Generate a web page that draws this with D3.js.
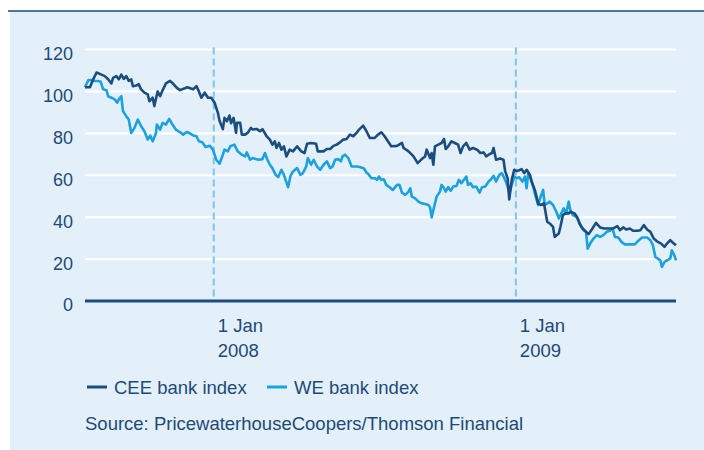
<!DOCTYPE html>
<html><head><meta charset="utf-8">
<script src="https://cdn.jsdelivr.net/npm/d3@7"></script>
<style>
html,body{margin:0;padding:0;background:#fff;}
svg{display:block;}
text{font-family:"Liberation Sans",Arial,Helvetica,sans-serif;fill:#1d4a78;}
</style></head>
<body>
<svg id="chart" width="704" height="450"></svg>
<script>
// Day offsets relative to 1 Jan 2008, and index values
const ceeDays = [-156,-150,-146,-142,-136,-132,-128,-124,-122,-118,-115,-112,-109,-106,-103,-100,-98,-94,-91,-88,-84,-80,-78,-74,-72,-68,-65,-62,-58,-53,-50,-45,-41,-35,-32,-25,-21,-18,-15,-11,-7,-3,1,5,7,11,13,16,19,21,24,27,28,32,34,38,41,45,47,52,56,59,64,68,71,74,76,79,82,85,88,92,96,101,106,110,113,118,124,126,133,137,141,145,149,153,157,161,165,169,173,176,181,185,189,195,199,203,207,211,215,222,228,230,236,242,247,252,256,258,262,264,266,268,272,276,279,281,284,288,292,296,299,302,306,310,314,319,323,327,330,333,337,339,342,347,351,353,356,358,361,364,367,370,373,376,379,383,385,389,393,396,400,404,407,411,413,418,420,423,426,430,432,437,440,443,447,451,454,458,463,468,473,478,484,489,492,496,500,504,508,513,517,521,525,529,533,538,542,546,549,553,557,560];
const ceeValues = [102,102,105.8,109,108,107.3,105.8,103.8,106.5,107.3,105.8,108,106,107.3,105,105.8,102.5,102.8,103.5,101,99.4,98.6,95.3,97,93,100,97.7,100.5,103.8,105,104,101.8,100.6,101.5,102,101,102.5,100,97,99.4,97,97,94.6,89.8,86,82,87.4,85.8,88.5,84.8,87.4,80.2,85,85,79.4,79.4,80.2,82.6,81.8,82.1,81,82,78.6,77,74.6,76.2,73,75.4,72.2,73.8,69,72.2,71.4,73.8,71.4,70.6,75,75.4,75,71.4,71.4,72.5,72.5,74,74.6,75.7,77,77.3,79.4,78.6,80.2,81.8,83.7,81,77.8,77.8,79.4,80.5,78.6,76.2,73.8,74,75.4,73,71.4,69,65.8,67.7,69,72.2,68.2,70.6,65,73.8,74.6,75.4,77.3,72.5,73.8,76.2,75.4,74.6,70.6,73.8,75.4,72.2,73,72.2,70.6,70.9,69,69.8,70.6,73,67.4,68,67.4,62,58.5,48.5,57.8,62.6,62,62.4,62.9,61,62.6,60.2,57,53,46.6,45.8,46.6,37.8,37,35.4,30.6,32.2,35.4,41,41.8,41.8,42.6,41.8,40.2,37,34.6,33,31.9,34.1,37.3,35.1,34.6,34.6,34.6,35.7,33.8,35.1,34.1,34.6,33.5,33.5,33.8,36.2,34.1,33,29.8,28.2,27.4,25.8,27.4,29,27.6,26.6];

const weDays = [-156,-152,-148,-144,-140,-137,-134,-130,-128,-124,-120,-117,-115,-112,-110,-106,-103,-100,-96,-92,-88,-84,-80,-77,-74,-70,-69,-65,-62,-58,-54,-50,-46,-41,-37,-33,-29,-25,-21,-18,-14,-10,-5,-1,3,7,11,13,17,20,25,29,34,38,40,44,47,51,55,59,62,65,68,71,75,78,82,85,87,90,93,96,101,105,108,112,114,118,121,125,129,133,137,141,144,147,151,154,156,159,163,167,173,177,182,185,187,191,195,198,200,203,206,209,213,217,222,225,228,232,236,238,240,244,248,252,256,260,262,264,267,270,274,276,279,281,284,287,290,294,297,300,303,306,308,311,314,318,322,325,329,333,336,339,342,346,349,353,356,358,361,364,367,370,374,377,379,381,384,387,390,393,396,399,401,404,407,411,415,418,420,424,427,430,432,435,439,442,445,448,451,453,456,460,464,468,472,476,480,483,486,490,494,498,504,510,515,519,525,529,532,535,538,541,543,546,549,553,555,558,560];
const weValues = [102,105.4,105.4,105,105,104.6,101,100.6,97.7,97,96.2,94.6,96.2,97.7,90.6,88.2,86.6,80.2,82.6,86.6,83.4,81,77,78.9,76.2,80,84.2,81.8,85,84.2,86.9,84.2,81.8,80.6,79.4,80.6,80,79,78.6,76.2,75.8,73.5,74.1,72.2,67.4,65.5,69.8,72.2,71.4,73.8,74.6,71.4,69.8,69,70.9,67.4,68.2,67.7,67.4,67.7,70.6,67.4,65,63.4,60.2,59.1,62.6,60.2,57.8,54.3,59.7,61.8,63.4,60.2,61,64.2,68.2,65,67.4,64.2,62.6,65,66.6,63.4,64.2,67.4,67.7,66.6,69,69.8,68.2,64.2,64.2,63.9,63.2,61.3,60.7,58.6,58.6,57.8,59.4,57.8,58.1,55.4,54.3,53,55.4,55.4,51.7,50.6,52.2,53.8,49.8,49,47.4,46.6,46.3,45.8,44.7,39.9,45,49.8,52.2,55.4,53.8,52.2,54.3,52.6,54.6,54.9,57.8,56.2,57.8,59.4,55.4,56.2,54.3,54.6,51.7,54.3,54.6,57,58.1,59.7,57,60.2,61,57.8,54.6,51.4,55.4,59.4,58.6,59,57,59.4,53.8,61,58.6,54.6,49.8,45.8,49.8,53,45.8,46.6,47.4,45.8,42.6,39.4,41,44.2,41.8,47.4,43.4,41,40.2,38.6,35.4,33.8,33,25,27.4,29.8,31.4,30.6,31.4,33,33.5,34.6,30.6,30.3,28.2,27,27,27,29,30.3,30.3,29,26.6,21,20.2,19.4,16.2,18.6,19.4,20.2,24.2,21.8,19.4];

const yTicks = [0, 20, 40, 60, 80, 100, 120];
const xMarkers = ["2008-01-01", "2009-01-01"];
const xMarkerLabels = [["1 Jan", "2008"], ["1 Jan", "2009"]];
const seriesNames = ["CEE bank index", "WE bank index"];
const sourceText = "Source: PricewaterhouseCoopers/Thomson Financial";

const colCEE = "#1b4d7e", colWE = "#1ba2de", textCol = "#1d4a78";
const base = new Date(2008, 0, 1);
const toDate = d => d3.timeDay.offset(base, d);

const svg = d3.select("#chart");
// panel
svg.append("rect").attr("x", 10).attr("y", 11).attr("width", 694).attr("height", 439).attr("fill", "#e3f0f9");
svg.append("line").attr("x1", 8).attr("x2", 704).attr("y1", 11).attr("y2", 11).attr("stroke", "#1d4a78").attr("stroke-width", 1.5);

const x = d3.scaleTime().domain([toDate(-156), toDate(560)]).range([85, 676]);
const y = d3.scaleLinear().domain([0, 120]).range([301, 49.5]);

// gridlines
svg.append("g").selectAll("line").data(yTicks.filter(t => t > 0)).join("line")
  .attr("x1", 85).attr("x2", 676).attr("y1", d => y(d)).attr("y2", d => y(d))
  .attr("stroke", "#ffffff").attr("stroke-width", 2.2);

// y axis labels
const yAxis = d3.axisLeft(y).tickValues(yTicks).tickSize(0).tickPadding(0);
const gy = svg.append("g").attr("transform", "translate(73,0)").call(yAxis);
gy.select(".domain").remove();
gy.selectAll("text").attr("font-size", 18).attr("fill", textCol).attr("dy", "0.72em").attr("y", -3)
  .style("font-family", '"Liberation Sans", Arial, sans-serif');

// dashed year markers
const markers = xMarkers.map(s => new Date(s + "T00:00:00"));
svg.append("g").selectAll("line").data(markers).join("line")
  .attr("x1", d => x(d)).attr("x2", d => x(d)).attr("y1", y(120) - 2).attr("y2", y(0))
  .attr("stroke", "#82c3ea").attr("stroke-width", 2).attr("stroke-dasharray", "7,4");

// lines
const lineGen = d3.line().x(d => x(d[0])).y(d => y(d[1]));
const ceeData = ceeDays.map((d, i) => [toDate(d), ceeValues[i]]);
const weData = weDays.map((d, i) => [toDate(d), weValues[i]]);
svg.append("path").datum(weData).attr("d", lineGen).attr("fill", "none")
  .attr("stroke", colWE).attr("stroke-width", 2.6).attr("stroke-linejoin", "round");
svg.append("path").datum(ceeData).attr("d", lineGen).attr("fill", "none")
  .attr("stroke", colCEE).attr("stroke-width", 2.6).attr("stroke-linejoin", "round");

// zero axis
svg.append("line").attr("x1", 85).attr("x2", 676).attr("y1", y(0)).attr("y2", y(0))
  .attr("stroke", "#1b4d7e").attr("stroke-width", 3);

// x labels
markers.forEach((m, i) => {
  const t = svg.append("text").attr("x", x(m) + 4).attr("font-size", 18.5).attr("fill", textCol);
  t.append("tspan").attr("x", x(m) + 4).attr("y", 332).text(xMarkerLabels[i][0]);
  t.append("tspan").attr("x", x(m) + 4).attr("y", 357).text(xMarkerLabels[i][1]);
});

// legend
const legX = [87, 267];
seriesNames.forEach((n, i) => {
  svg.append("line").attr("x1", legX[i]).attr("x2", legX[i] + 20).attr("y1", 387).attr("y2", 387)
    .attr("stroke", i === 0 ? colCEE : colWE).attr("stroke-width", 3);
  svg.append("text").attr("x", legX[i] + 27).attr("y", 393.5).attr("font-size", 18.5).attr("fill", textCol).text(n);
});
svg.append("text").attr("x", 85).attr("y", 430).attr("font-size", 18.5).attr("fill", textCol).text(sourceText);
</script>
</body></html>
